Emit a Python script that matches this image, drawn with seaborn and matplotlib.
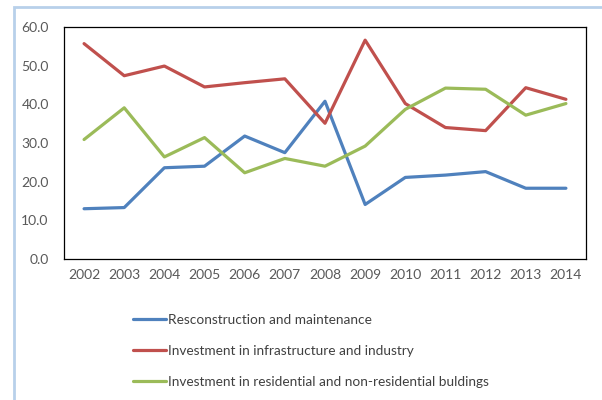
import matplotlib
matplotlib.use("Agg")
import matplotlib.pyplot as plt
from matplotlib.patches import Rectangle
import seaborn as sns
import pandas as pd

# data
years = [2002, 2003, 2004, 2005, 2006, 2007, 2008, 2009, 2010, 2011, 2012, 2013, 2014]
reconstruction = [13.0, 13.3, 23.6, 24.0, 31.8, 27.5, 40.8, 14.1, 21.1, 21.7, 22.6, 18.3, 18.3]
infrastructure = [55.7, 47.4, 49.9, 44.5, 45.6, 46.6, 35.1, 56.6, 40.2, 34.0, 33.2, 44.3, 41.3]
residential = [30.9, 39.1, 26.4, 31.4, 22.3, 26.0, 24.0, 29.2, 38.7, 44.2, 43.9, 37.2, 40.2]

series_names = [
    "Resconstruction and maintenance",
    "Investment in infrastructure and industry",
    "Investment in residential and non-residential buldings",
]
colors = ["#4F81BD", "#C0504D", "#9BBB59"]
y_ticks = [0, 10, 20, 30, 40, 50, 60]

df = pd.DataFrame({
    "year": years * 3,
    "value": reconstruction + infrastructure + residential,
    "series": [series_names[0]] * 13 + [series_names[1]] * 13 + [series_names[2]] * 13,
})

sns.set_style("white")
plt.rcParams["font.family"] = ["Lato", "DejaVu Sans"]

fig = plt.figure(figsize=(6.02, 4.0), dpi=100)
ax = fig.add_axes([0.1063, 0.3525, 0.8671, 0.58])

sns.lineplot(data=df, x="year", y="value", hue="series", palette=colors,
             linewidth=2.3, ax=ax, legend=False)

ax.set_xlim(2001.5, 2014.5)
ax.set_ylim(0, 60)
ax.set_xticks(years)
ax.set_xticklabels([str(y) for y in years])
ax.set_yticks(y_ticks)
ax.set_yticklabels([f"{v:.1f}" for v in y_ticks])
ax.set_xlabel("")
ax.set_ylabel("")
ax.tick_params(axis="both", length=0, labelsize=10, colors="#595959")
ax.tick_params(axis="y", pad=11)
ax.tick_params(axis="x", pad=7)
for sp in ax.spines.values():
    sp.set_visible(True)
    sp.set_color("black")
    sp.set_linewidth(0.9)

# legend below the plot
handles = [plt.Line2D([], [], color=c, linewidth=2.3) for c in colors]
fig.legend(handles, series_names, loc="upper left", bbox_to_anchor=(0.209, 0.232),
           frameon=False, fontsize=9.8, handlelength=2.45, handletextpad=0.12,
           labelspacing=1.4, labelcolor="#404040", borderpad=0)

# light blue frame around the chart area
fig.add_artist(Rectangle((14 / 602, -0.05), 1.1, 1 - 7 / 400 + 0.05,
                         transform=fig.transFigure, fill=False,
                         edgecolor="#B8D0EA", linewidth=2))

fig.savefig("out.png", dpi=100)
